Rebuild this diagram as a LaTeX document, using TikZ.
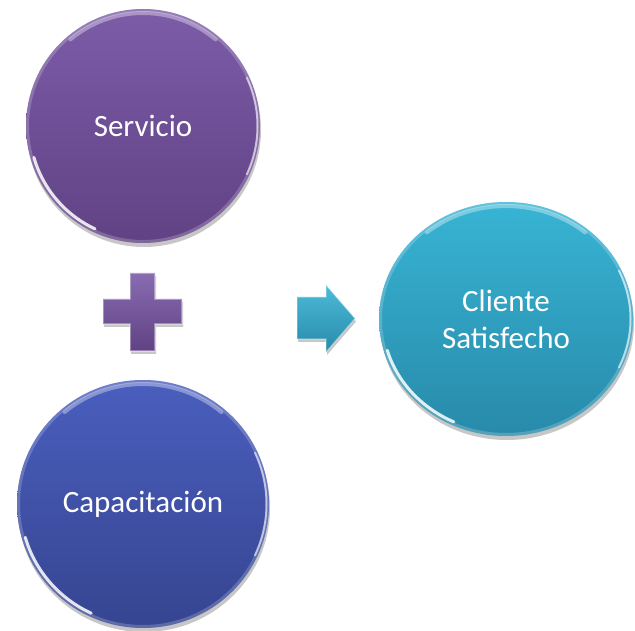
\documentclass[tikz,border=0pt]{standalone}
\usepackage{fontspec}
\setmainfont{Carlito}
\usepackage{tikz}
\usetikzlibrary{shapes.geometric, shadows, calc}
\definecolor{servtop}{RGB}{124, 92, 168}
\definecolor{servbot}{RGB}{96, 66, 132}
\definecolor{capatop}{RGB}{74, 94, 190}
\definecolor{capabot}{RGB}{54, 69, 144}
\definecolor{clitop}{RGB}{56, 180, 212}
\definecolor{clibot}{RGB}{40, 138, 170}

\begin{document}
\begin{tikzpicture}[
    x=1pt, y=1pt,
    burbuja/.style={ellipse, draw=none, text=white, align=center,
        font=\fontsize{31}{37}\selectfont,
        drop shadow={shadow xshift=1pt, shadow yshift=-4pt, opacity=.22, fill=black},
        path picture={
            \draw[white, opacity=.2, line width=6pt]
                let \p1=(path picture bounding box.center), \p2=(path picture bounding box.north east)
                in (\p1) ellipse ({\x2-\x1} and {\y2-\y1});
            \draw[white, opacity=.85, line width=3pt, line cap=round]
                let \p1=(path picture bounding box.center), \p2=(path picture bounding box.north east),
                    \n1={\x2-\x1-3.5pt}, \n2={\y2-\y1-3.5pt}
                in ({\x1+\n1*cos(196)},{\y1+\n2*sin(196)}) arc[start angle=196, end angle=245, x radius=\n1, y radius=\n2];
            \draw[white, opacity=.35, line width=4pt, line cap=round]
                let \p1=(path picture bounding box.center), \p2=(path picture bounding box.north east),
                    \n1={\x2-\x1-4pt}, \n2={\y2-\y1-4pt}
                in ({\x1+\n1*cos(50)},{\y1+\n2*sin(50)}) arc[start angle=50, end angle=130, x radius=\n1, y radius=\n2];
            \draw[white, opacity=.6, line width=2pt, line cap=round]
                let \p1=(path picture bounding box.center), \p2=(path picture bounding box.north east),
                    \n1={\x2-\x1-2.5pt}, \n2={\y2-\y1-2.5pt}
                in ({\x1+\n1*cos(-25)},{\y1+\n2*sin(-25)}) arc[start angle=-25, end angle=25, x radius=\n1, y radius=\n2];
        }},
    signo/.style={drop shadow={shadow xshift=1pt, shadow yshift=-3pt, opacity=.22, fill=black}},
    borde/.style={draw=white, draw opacity=.35, line width=1.2pt, line join=miter}
]

% fondo y margenes
\fill[white] (0,0) rectangle (635,630);
\useasboundingbox (0,0) rectangle (635,630);

% circulos
\node[burbuja, minimum width=234pt, minimum height=234pt, top color=servtop, bottom color=servbot] (servicio) at (143,504) {Servicio};
\node[burbuja, minimum width=252pt, minimum height=248pt, top color=capatop, bottom color=capabot] (capacitacion) at (143,126) {Capacitación};
\node[burbuja, minimum width=254pt, minimum height=234pt, top color=clitop, bottom color=clibot] (cliente) at (506,311) {Cliente\\Satisfecho};

% signo mas
\path[signo, top color=servtop!90!white, bottom color=servbot, borde]
    (130,357) -- (155,357) -- (155,331) -- (182,331) -- (182,306) -- (155,306)
    -- (155,279) -- (130,279) -- (130,306) -- (103,306) -- (103,331) -- (130,331) -- cycle;

% flecha
\path[signo, top color=clitop!90!white, bottom color=clibot, borde]
    (297,333) -- (326,333) -- (326,345) -- (355,311.5) -- (326,278) -- (326,291) -- (297,291) -- cycle;

\end{tikzpicture}
\end{document}
